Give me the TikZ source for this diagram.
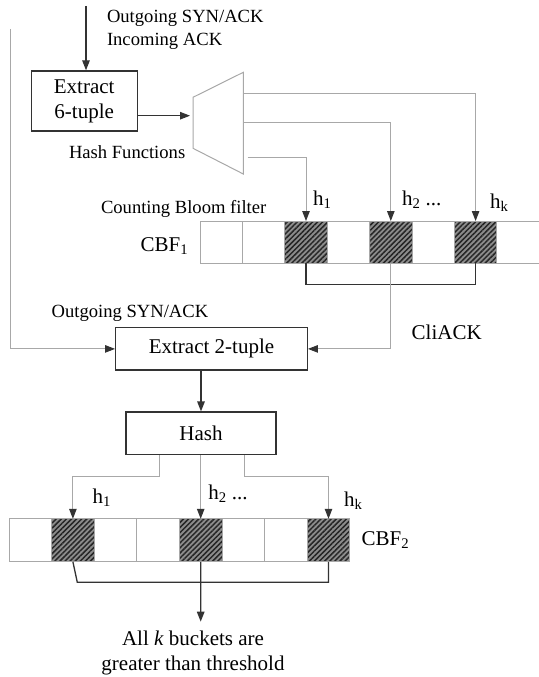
\documentclass[tikz,border=0pt]{standalone}
\usepackage{fontspec}
\setmainfont{Liberation Serif}
\usetikzlibrary{arrows.meta,patterns.meta,calc}
\definecolor{dk}{HTML}{333333}
\definecolor{lg}{HTML}{A8A8A8}
\definecolor{hf}{HTML}{8C8C8C}
\begin{document}
\begin{tikzpicture}[x=1pt,y=-1pt,
  big/.style={font=\fontsize{21}{25}\selectfont},
  small/.style={font=\fontsize{18.6}{23}\selectfont},
  lab/.style={inner sep=0pt,outer sep=0pt,anchor=base west},
  box/.style={draw=dk,line width=1.3pt,inner sep=0pt,big,align=center},
  cellbox/.style={draw=lg,line width=0.9pt,inner sep=0pt,outer sep=0pt},
  cellA/.style={cellbox,minimum width=42.4pt,minimum height=42pt},
  cellB/.style={cellbox,minimum width=42.6pt,minimum height=43pt},
  hatch/.style={preaction={fill=hf},pattern={Lines[angle=45,distance=3.6pt,line width=1.5pt]},pattern color=black!85},
  nohatch/.style={},
  darr/.style={draw=dk,line width=1.3pt,-{Triangle[length=10pt,width=7.5pt,color=dk]}},
  garr/.style={draw=lg,line width=1pt,-{Triangle[length=10pt,width=7.5pt,color=dk]}},
  gline/.style={draw=lg,line width=1pt},
  dline/.style={draw=dk,line width=1.3pt}
]
\useasboundingbox (0,0) rectangle (538,677);

% top input
\node[box,minimum width=106pt,minimum height=60pt] (ext6) at (84.2,101) {Extract\\[0pt]6-tuple};
\coordinate (in1) at (86,6);
\draw[darr] (in1) -- (in1 |- ext6.north);
\node[lab,small] (t1) at (107,22.3) {Outgoing SYN/ACK};
\node[lab,small] (t2) at (107,45.7) {Incoming ACK};

% hash functions trapezoid
\coordinate (tz1) at (193,97.3);
\coordinate (tz2) at (243.3,72.3);
\coordinate (tz3) at (243.3,174);
\coordinate (tz4) at (193,148.3);
\draw[gline] (tz1) -- (tz2) -- (tz3) -- (tz4) -- cycle;
\coordinate (tin) at (190,115.7);
\draw[darr] (ext6.east |- tin) -- (tin);
\node[lab,small] (hfl) at (69,158.3) {Hash Functions};

% CBF1
\foreach \i/\s in {1/nohatch,2/nohatch,3/hatch,4/nohatch,5/hatch,6/nohatch,7/hatch,8/nohatch}
  \node[cellA,\s] (c\i) at ({200+42.4*(\i-0.5)},242) {};
\node[lab,small] (cbfl) at (101,213.3) {Counting Bloom filter};
\node[lab,big] (cbf1) at (140.7,251) {CBF\textsubscript{1}};

\coordinate (hfk) at (243.3,93.3);
\coordinate (hf2) at (243.3,122.3);
\coordinate (hf1) at (247.7,157.7);
\draw[garr] (hfk) -| (c7.north);
\draw[garr] (hf2) -| (c5.north);
\draw[garr] (hf1) -| (c3.north);
\node[lab,big] (a1) at (313,205) {h\textsubscript{1}};
\node[lab,big] (a2) at (402,205) {h\textsubscript{2} ...};
\node[lab,big] (ak) at (490,208) {h\textsubscript{k}};

\draw[dline] (c3.south) -- ++(0,21.3) -| (c7.south);

% Extract 2-tuple
\node[box,minimum width=191.6pt,minimum height=42.3pt] (ext2) at (211.5,348.9) {Extract 2-tuple};
\coordinate (lft) at (10,29);
\draw[garr] (lft) |- (ext2.west);
\draw[garr] (c5.south) |- (ext2.east);
\node[lab,small] (t3) at (51.7,317.7) {Outgoing SYN/ACK};
\node[lab,big] (cli) at (411.7,339) {CliACK};

% Hash
\node[box,minimum width=150pt,minimum height=42.3pt] (hash) at (201,433.2) {Hash};
\draw[darr] (ext2.south -| hash.north) -- (hash.north);

% CBF2
\foreach \i/\s in {1/nohatch,2/hatch,3/nohatch,4/nohatch,5/hatch,6/nohatch,7/nohatch,8/hatch}
  \node[cellB,\s] (d\i) at ({9+42.6*(\i-0.5)},540.3) {};
\coordinate (ho1) at ($(hash.south)+(-42,0)$);
\coordinate (ho3) at ($(hash.south)+(43.3,0)$);
\draw[garr] (ho1) -- ++(0,21.7) -| (d2.north);
\draw[garr] (hash.south -| d5.north) -- (d5.north);
\draw[garr] (ho3) -- ++(0,21.7) -| (d8.north);
\node[lab,big] (b1) at (92.7,503) {h\textsubscript{1}};
\node[lab,big] (b2) at (208.3,499.3) {h\textsubscript{2} ...};
\node[lab,big] (bk) at (344,506.7) {h\textsubscript{k}};
\node[lab,big] (cbf2) at (361.7,545.7) {CBF\textsubscript{2}};

\draw[dline] (d2.south) -- ++(4.4,20.5) -| (d8.south);
\coordinate (rt) at (200.7,621.7);
\draw[darr] (d5.south) -- (rt);
\node[big,inner sep=0pt,anchor=base] (r1) at (193,645.7) {All \textit{k} buckets are};
\node[big,inner sep=0pt,anchor=base] (r2) at (193,670.7) {greater than threshold};
\end{tikzpicture}
\end{document}
